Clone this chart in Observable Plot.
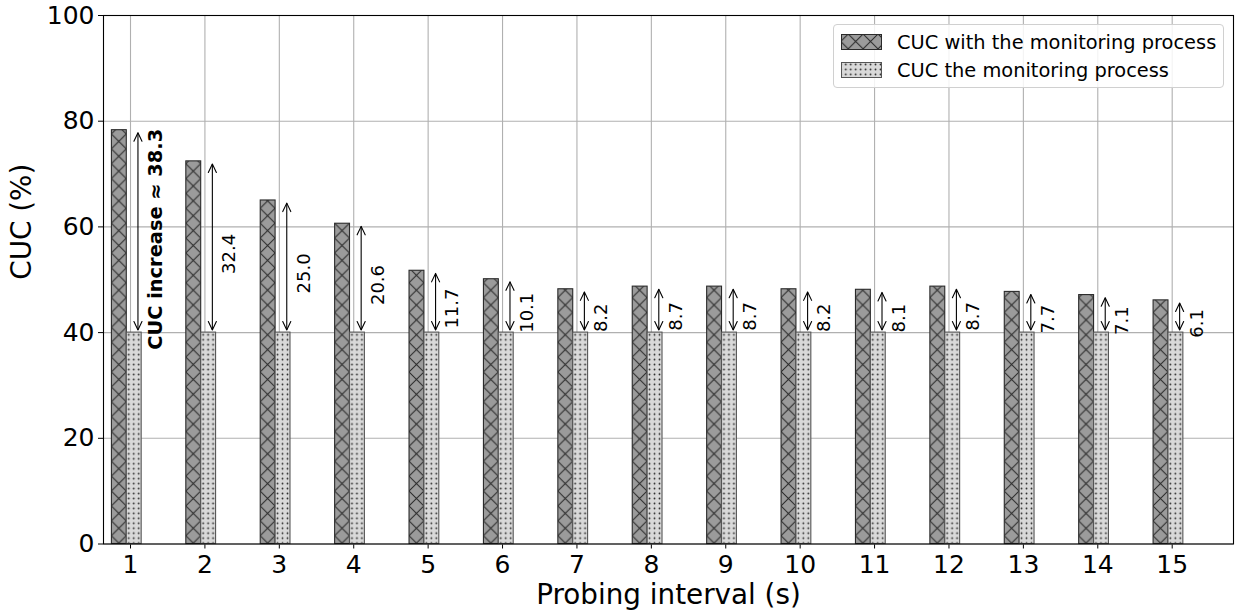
<!DOCTYPE html>
<html>
<head>
<meta charset="utf-8">
<script src="https://cdn.jsdelivr.net/npm/d3@7"></script>
<script src="https://cdn.jsdelivr.net/npm/@observablehq/plot@0.6"></script>
<style>
  html, body { margin: 0; padding: 0; background: #fff; }
  #wrap { position: relative; width: 1237px; height: 611px; font-family: "DejaVu Sans", sans-serif; }
  #legend { position: absolute; left: 833px; top: 24px; width: 391px; height: 64px; box-sizing: border-box;
            border: 1px solid #d0d0d0; border-radius: 4px; background: rgba(255,255,255,0.85); }
  .row { position: absolute; left: 7px; height: 28px; display: flex; align-items: center;
         font-size: 19.4px; color: #000; white-space: nowrap; }
  .row svg { display: block; margin-right: 15px; }
</style>
</head>
<body>
<div id="wrap">
  <svg width="0" height="0" style="position:absolute">
    <defs>
      <pattern id="xhatch" patternUnits="userSpaceOnUse" x="111.4" y="0" width="14.88" height="14.88">
        <rect width="14.88" height="14.88" fill="#9b9b9b"/>
        <path d="M0,0L14.88,14.88M-1,13.88L1,15.88M13.88,-1L15.88,1M14.88,0L0,14.88M-1,1L1,-1M13.88,15.88L15.88,13.88"
              stroke="#262626" stroke-width="1" fill="none"/>
      </pattern>
      <pattern id="dots" patternUnits="userSpaceOnUse" x="126.3" y="0" width="4.96" height="4.96">
        <rect width="4.96" height="4.96" fill="#d9d9d9"/>
        <circle cx="2.48" cy="2.48" r="0.9" fill="#2a2a2a"/>
      </pattern>
    </defs>
  </svg>
  <div id="chart"></div>
  <div id="legend"></div>
</div>
<script>
// ---- data ----
const intervals = [1, 2, 3, 4, 5, 6, 7, 8, 9, 10, 11, 12, 13, 14, 15];
const cucWithMonitoring = [78.3, 72.4, 65.0, 60.6, 51.7, 50.1, 48.2, 48.7, 48.7, 48.2, 48.1, 48.7, 47.7, 47.1, 46.1];
const cucWithoutMonitoring = [40, 40, 40, 40, 40, 40, 40, 40, 40, 40, 40, 40, 40, 40, 40];
const increaseLabels = ["CUC increase ≈ 38.3", "32.4", "25.0", "20.6", "11.7", "10.1", "8.2", "8.7", "8.7", "8.2", "8.1", "8.7", "7.7", "7.1", "6.1"];
const xTicks = [1, 2, 3, 4, 5, 6, 7, 8, 9, 10, 11, 12, 13, 14, 15];
const yTicks = [0, 20, 40, 60, 80, 100];
const seriesNames = ["CUC with the monitoring process", "CUC the monitoring process"];
const xLabel = "Probing interval (s)";
const yLabel = "CUC (%)";

const rows = intervals.map((x, i) => ({
  x, hi: cucWithMonitoring[i], lo: cucWithoutMonitoring[i], label: increaseLabels[i], first: i === 0
}));

// arrow geometry (style sizes, in data units)
const shrink = 0.5, headHalf = 0.054, headLen = 1.6, arrowOff = 0.1;
const heads = [];
rows.forEach((d, i) => {
  const ax = d.x + arrowOff;
  const top = d.hi - shrink, bot = d.lo + shrink;
  heads.push({k: "t" + i, x: ax - headHalf, y: top - headLen}, {k: "t" + i, x: ax, y: top}, {k: "t" + i, x: ax + headHalf, y: top - headLen});
  heads.push({k: "b" + i, x: ax - headHalf, y: bot + headLen}, {k: "b" + i, x: ax, y: bot}, {k: "b" + i, x: ax + headHalf, y: bot + headLen});
});

const chart = Plot.plot({
  width: 1237,
  height: 611,
  marginLeft: 103,
  marginRight: 4,
  marginTop: 15,
  marginBottom: 67.5,
  style: {fontFamily: "DejaVu Sans", fontSize: "25px", background: "white", color: "black", overflow: "visible"},
  x: {type: "linear", domain: [0.637, 15.824], ticks: xTicks, tickFormat: d => String(d), tickSize: 5, tickPadding: 6, label: null},
  y: {domain: [0, 100], ticks: yTicks, tickFormat: d => String(d), tickSize: 5, tickPadding: 4, label: null},
  marks: [
    Plot.ruleY(yTicks, {stroke: "#b0b0b0", strokeWidth: 1.1}),
    Plot.ruleX(xTicks, {stroke: "#b0b0b0", strokeWidth: 1.1}),
    Plot.rect(rows, {x1: d => d.x - 0.25, x2: d => d.x - 0.05, y1: d => 0, y2: "hi",
      fill: "url(#xhatch)", stroke: "#2a2a2a", strokeWidth: 1.1}),
    Plot.rect(rows, {x1: d => d.x - 0.05, x2: d => d.x + 0.15, y1: d => 0, y2: "lo",
      fill: "url(#dots)", stroke: "#555", strokeWidth: 1.1}),
    Plot.link(rows, {x1: d => d.x + arrowOff, x2: d => d.x + arrowOff, y1: d => d.lo + shrink, y2: d => d.hi - shrink,
      stroke: "black", strokeWidth: 1.1}),
    Plot.line(heads, {x: "x", y: "y", z: "k", stroke: "black", strokeWidth: 1.1}),
    Plot.text(rows.filter(d => !d.first), {x: d => d.x + 0.33, y: d => (d.lo + d.hi) / 2 - 1.3, text: "label",
      rotate: -90, fontSize: 18, fill: "black", textAnchor: "middle"}),
    Plot.text(rows.filter(d => d.first), {x: d => d.x + 0.336, y: d => (d.lo + d.hi) / 2 - 1.5, text: "label",
      rotate: -90, fontSize: 19.4, fontWeight: "bold", fill: "black", textAnchor: "middle"}),
    Plot.text([xLabel], {frameAnchor: "bottom", dy: 60, text: d => d, fontSize: 27.8, fill: "black"}),
    Plot.text([yLabel], {frameAnchor: "left", dx: -81, rotate: -90, text: d => d, fontSize: 27.8, fill: "black"}),
    Plot.frame({stroke: "black", strokeWidth: 1.1})
  ]
});
document.getElementById("chart").appendChild(chart);

// legend
const legend = document.getElementById("legend");
const fills = [["url(#xhatch)", "#2a2a2a"], ["url(#dots)", "#555"]];
seriesNames.forEach((name, i) => {
  const row = document.createElement("div");
  row.className = "row";
  row.style.top = (3 + i * 28) + "px";
  row.innerHTML = `<svg width="41" height="16"><rect x="0.5" y="0.5" width="40" height="15" fill="${fills[i][0]}" stroke="${fills[i][1]}" stroke-width="1"/></svg><span>${name}</span>`;
  legend.appendChild(row);
});
</script>
</body>
</html>
